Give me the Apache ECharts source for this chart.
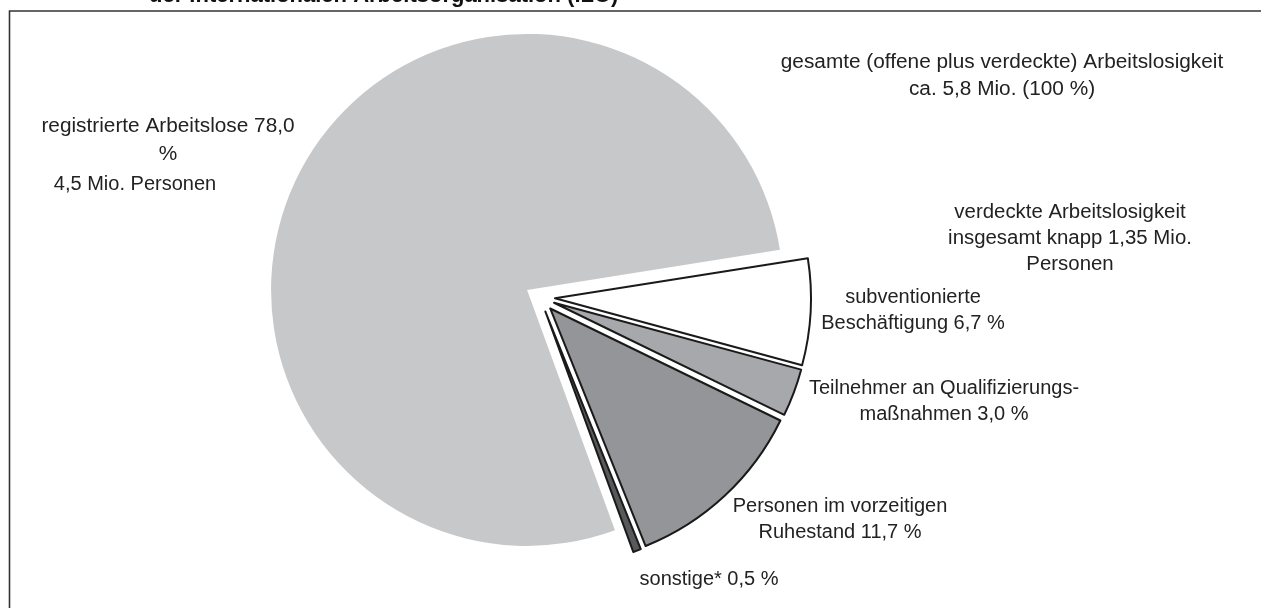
<!DOCTYPE html>
<html>
<head>
<meta charset="utf-8">
<script src="https://cdn.jsdelivr.net/npm/echarts@6/dist/echarts.min.js"></script>
<style>
html,body{margin:0;padding:0;background:#fff;}
#chart{width:1261px;height:608px;}
</style>
</head>
<body>
<div id="chart"></div>
<script>
// ---- data ----
const titleText = 'der Internationalen Arbeitsorganisation (ILO)';
const categories = ['subventionierte Beschäftigung', 'Teilnehmer an Qualifizierungsmaßnahmen', 'Personen im vorzeitigen Ruhestand', 'sonstige*', 'registrierte Arbeitslose'];
const shares = [6.7, 3.0, 11.7, 0.5, 78.0];
const sliceColors = ['#ffffff', '#a7a8ab', '#939598', '#58595b', '#c7c8ca'];
const labelLines = [
  ['subventionierte', 'Beschäftigung {v} %'],
  ['Teilnehmer an Qualifizierungs-', 'maßnahmen {v} %'],
  ['Personen im vorzeitigen', 'Ruhestand {v} %'],
  ['sonstige* {v} %'],
  ['registrierte Arbeitslose {v}', '%']
];
const extraLabel = '4,5 Mio. Personen';
const totalNote = ['gesamte (offene plus verdeckte) Arbeitslosigkeit', 'ca. 5,8 Mio. (100 %)'];
const hiddenNote = ['verdeckte Arbeitslosigkeit', 'insgesamt knapp 1,35 Mio.', 'Personen'];

// ---- layout / style ----
const FONT = '"Liberation Sans", Arial, sans-serif';
const FS = 20;
const LH = 26;
const labelPos = [[913, 310], [944, 401], [840, 519], [709, 579], [168, 140]];

const fmt = v => v.toFixed(1).replace('.', ',');

function txt(x, y, lines, extra, scaleX) {
  const s = Object.assign({
    text: lines.join('\n'),
    fill: '#222',
    font: FS + 'px ' + FONT,
    fontSize: FS,
    fontFamily: FONT,
    lineHeight: LH,
    align: 'center', textAlign: 'center',
    verticalAlign: 'middle', textVerticalAlign: 'middle'
  }, extra || {});
  return { type: 'text', x: x, y: y, scaleX: scaleX || 1, silent: true, style: s };
}

const graphics = [];
graphics.push({
  type: 'polyline', silent: true,
  shape: { points: [[9.5, 620], [9.5, 11], [1270, 11]] },
  style: { stroke: '#333', lineWidth: 1.6, fill: null }
});
graphics.push(txt(149, -4, [titleText], {
  font: 'bold 22px ' + FONT, fontWeight: 'bold', fontSize: 22,
  align: 'left', textAlign: 'left', fill: '#111'
}));
labelLines.forEach((lines, i) => {
  const l = lines.map(t => t.replace('{v}', fmt(shares[i])));
  graphics.push(txt(labelPos[i][0], labelPos[i][1], l, i === 4 ? { lineHeight: 28 } : {}, i === 4 ? 1.04 : 1));
});
graphics.push(txt(135, 184, [extraLabel]));
graphics.push(txt(1002, 76, totalNote, { lineHeight: 27 }, 1.04));
graphics.push(txt(1070, 238, hiddenNote, {}, 1.02));

const data = categories.map((c, i) => {
  const st = {
    color: sliceColors[i],
    borderColor: i === 4 ? 'transparent' : '#1a1a1a',
    borderWidth: i === 4 ? 0 : 2
  };
  return { name: c, value: shares[i], selected: true, itemStyle: st, select: { itemStyle: st } };
});

const chart = echarts.init(document.getElementById('chart'), null, { renderer: 'canvas' });
chart.setOption({
  animation: false,
  backgroundColor: '#ffffff',
  graphic: graphics,
  series: [{
    type: 'pie',
    center: [540, 297.5],
    radius: 256,
    startAngle: 9,
    clockwise: true,
    selectedMode: 'multiple',
    selectedOffset: 15,
    avoidLabelOverlap: false,
    label: { show: false },
    labelLine: { show: false },
    emphasis: { disabled: true },
    data: data
  }]
});
</script>
</body>
</html>
